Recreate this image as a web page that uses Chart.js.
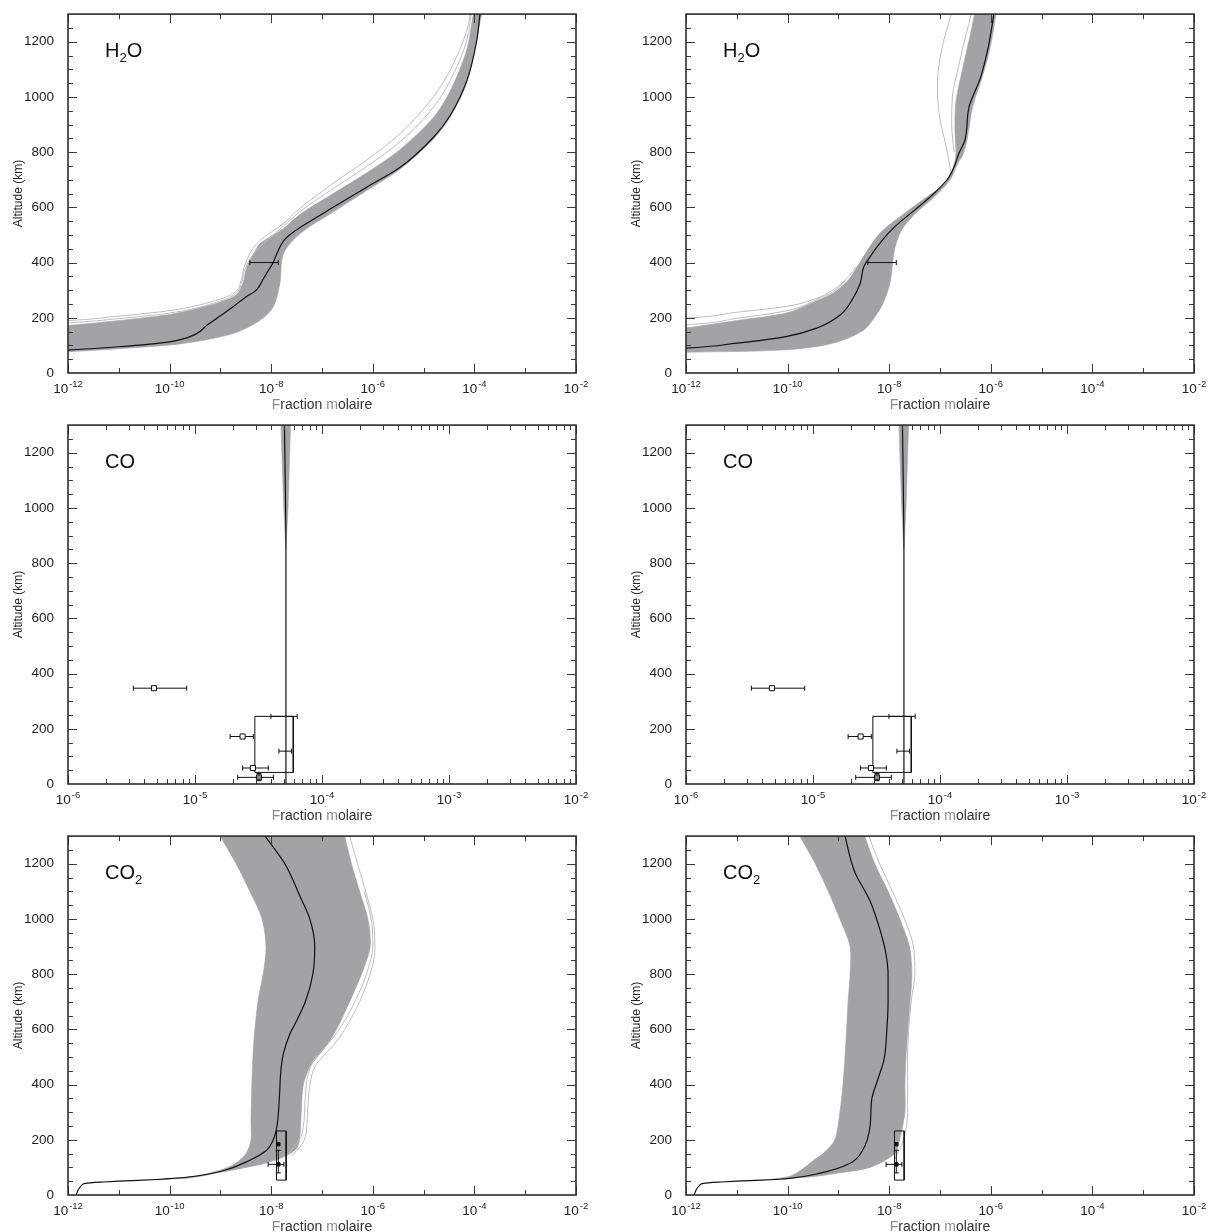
<!DOCTYPE html>
<html><head><meta charset="utf-8">
<script src="https://cdn.jsdelivr.net/npm/chart.js@4.4.1/dist/chart.umd.min.js"></script>
<style>
html,body{margin:0;padding:0;background:#fff;}
#wrap{position:relative;width:1210px;height:1232px;overflow:hidden;}
.cv{position:absolute;}
</style></head><body>
<div id="wrap">
<canvas id="c1" class="cv" style="left:0;top:0" width="605" height="411"></canvas>
<canvas id="c2" class="cv" style="left:605px;top:0" width="605" height="411"></canvas>
<canvas id="c3" class="cv" style="left:0;top:411px" width="605" height="411"></canvas>
<canvas id="c4" class="cv" style="left:605px;top:411px" width="605" height="411"></canvas>
<canvas id="c5" class="cv" style="left:0;top:822px" width="605" height="410"></canvas>
<canvas id="c6" class="cv" style="left:605px;top:822px" width="605" height="410"></canvas>
</div>
<script>
// ---------- tick labels ----------
const yTickValues = [0, 200, 400, 600, 800, 1000, 1200];
const xTicksWide = [1e-12, 1e-10, 1e-8, 1e-6, 1e-4, 1e-2];
const xMinorWide = [1e-11, 1e-9, 1e-7, 1e-5, 1e-3];
const xTicksCO = [1e-6, 1e-5, 1e-4, 1e-3, 1e-2];

// ---------- H2O (left) : [mole fraction, altitude km] ----------
const h2oLeftMedian = [[5e-13,80],[1e-12,83],[1e-11,95],[1e-10,113],[3.2e-10,140],[5.4e-10,173],[1e-9,207],[1.78e-9,240],[3.0e-9,272],[5.1e-9,300],[6.5e-9,330],[8.1e-9,361],[1.07e-8,397],[1.35e-8,440],[1.74e-8,478],[2.5e-8,505],[3.72e-8,527],[1.66e-7,600],[7.59e-7,673],[3.47e-6,745],[1.55e-5,853],[3.31e-5,932],[7.08e-5,1058],[1.11e-4,1203],[1.29e-4,1300],[1.4e-4,1340]];
const h2oLeftBand = [[5e-13,75],[5e-13,170],[1e-12,172],[1e-11,190],[1e-10,212],[3.16e-10,232],[1e-9,257],[2.09e-9,284],[2.82e-9,330],[3.31e-9,384],[4.47e-9,430],[6.03e-9,469],[1.7e-8,522],[3.72e-8,575],[1.66e-7,650],[7.59e-7,725],[3.47e-6,810],[1.55e-5,925],[3.31e-5,1020],[7.08e-5,1170],[9.5e-5,1300],[1.05e-4,1340],[1.48e-4,1340],[1.38e-4,1299],[7.08e-5,1052],[3.31e-5,926],[1.55e-5,847],[3.47e-6,739],[7.59e-7,661],[1.66e-7,583],[3.72e-8,505],[1.74e-8,432],[1.48e-8,324],[1.1e-8,240],[6.03e-9,191],[1.78e-9,143],[1.86e-10,107],[1e-11,88],[1e-12,77],[5e-13,75]];
const h2oLeftOut1 = [[5e-13,188],[1e-12,190],[1e-11,206],[1e-10,226],[1e-9,268],[1.95e-9,292],[2.5e-9,330],[2.95e-9,385],[4e-9,440],[6e-9,480],[1.7e-8,540],[3.72e-8,597],[1.66e-7,687],[7.59e-7,771],[3.47e-6,868],[1.55e-5,1000],[3.31e-5,1096],[7.08e-5,1241],[8.9e-5,1340]];
const h2oLeftOut2 = [[5e-13,178],[1e-12,181],[1e-11,197],[1e-10,217],[1e-9,261],[2.0e-9,287],[2.6e-9,325],[3.1e-9,380],[4.5e-9,432],[1.7e-8,530],[3.72e-8,585],[1.66e-7,668],[7.59e-7,748],[3.47e-6,838],[1.55e-5,962],[3.31e-5,1058],[7.08e-5,1205],[9.2e-5,1340]];
const h2oErrAlt = 400, h2oErrLo = 3.8e-9, h2oErrHi = 1.38e-8;

// ---------- H2O (right) ----------
const h2oRightMedian = [[5e-13,88],[1e-12,90],[1e-11,108],[9.3e-11,132],[3.8e-10,163],[1.1e-9,211],[1.86e-9,265],[2.69e-9,325],[3.16e-9,385],[3.8e-9,409],[6.46e-9,469],[1.29e-8,530],[3.16e-8,590],[7.59e-8,650],[1.51e-7,710],[2.0e-7,758],[2.34e-7,794],[3.09e-7,843],[3.72e-7,963],[6.31e-7,1071],[8.91e-7,1180],[1.15e-6,1300],[1.25e-6,1340]];
const h2oRightBand = [[5e-13,74],[5e-13,160],[1e-12,163],[1e-11,190],[9.3e-11,217],[3.8e-10,262],[7.76e-10,289],[1.58e-9,337],[2.24e-9,380],[2.57e-9,397],[6.46e-9,505],[2.0e-8,578],[4.47e-8,626],[1.12e-7,680],[1.7e-7,730],[2.05e-7,790],[1.97e-7,880],[2.05e-7,980],[2.82e-7,1107],[3.98e-7,1228],[4.79e-7,1300],[5.25e-7,1340],[1.32e-6,1340],[1.26e-6,1300],[9.77e-7,1180],[6.76e-7,1071],[4.37e-7,963],[3.39e-7,843],[2.82e-7,790],[2.24e-7,760],[1.58e-7,700],[7.94e-8,640],[3.16e-8,575],[1.78e-8,520],[1.32e-8,460],[1.17e-8,400],[1.05e-8,330],[8.3e-9,270],[6.46e-9,229],[3.16e-9,156],[7.76e-10,108],[9.3e-11,84],[1e-12,75],[5e-13,74]];
const h2oRightOutA = [[1.66e-7,722],[1.29e-7,830],[9.8e-8,927],[8.9e-8,1047],[1.07e-7,1168],[1.66e-7,1300],[1.9e-7,1340]];
const h2oRightOutB = [[1.9e-7,800],[1.7e-7,900],[1.75e-7,1000],[2.3e-7,1107],[3.3e-7,1230],[4.1e-7,1300],[4.4e-7,1340]];
const h2oRightOutC = [[5e-13,197],[1e-12,199],[1e-11,220],[9.3e-11,241],[3.8e-10,271],[7.76e-10,301],[1.58e-9,349],[2.2e-9,385]];
const h2oRightOutD = [[5e-13,173],[1e-12,175],[1e-11,198],[9.3e-11,225],[3.8e-10,266],[7.76e-10,294],[1.4e-9,335]];

// ---------- CO ----------
const coMedian = [[5.2e-5,0],[5.2e-5,850],[5.15e-5,1050],[5.05e-5,1340]];
const coBand = [[5.2e-5,850],[5.4e-5,1000],[5.65e-5,1300],[5.7e-5,1340],[4.7e-5,1340],[4.75e-5,1300],[5.0e-5,1000],[5.2e-5,850]];
const coMarkX = [4.75e-6, 2.37e-5, 2.86e-5, 3.19e-5];
const coMarkAlt = [347, 172, 58, 24];
const coErrLo = [3.27e-6, 1.89e-5, 2.37e-5, 2.17e-5];
const coErrHi = [8.6e-6, 2.88e-5, 3.78e-5, 4.14e-5];
const coBarAlt = [245, 119];
const coBarLo = [3.96e-5, 4.58e-5];
const coBarHi = [6.38e-5, 5.75e-5];
const coBoxX = [2.96e-5, 5.94e-5];
const coBoxAlt = [42, 245];

// ---------- CO2 (left) ----------
const co2LeftMedian = [[1.45e-12,0],[1.6e-12,20],[1.85e-12,35],[2.2e-12,42],[5e-12,47],[1e-11,50],[7e-11,57],[1e-10,59],[3.2e-10,68],[1e-9,85],[3.8e-9,126],[8.1e-9,162],[1.1e-8,200],[1.29e-8,247],[1.45e-8,355],[1.55e-8,451],[1.74e-8,512],[2.34e-8,584],[2.95e-8,620],[4.7e-8,700],[6.6e-8,800],[7.2e-8,900],[5.75e-8,1000],[3.72e-8,1080],[1.86e-8,1200],[7.6e-9,1300],[5.5e-9,1340]];
const co2LeftBand = [[5e-11,56],[2.5e-10,66],[1e-9,90],[2e-9,115],[3.2e-9,150],[4e-9,200],[4e-9,271],[4.4e-9,512],[5.4e-9,692],[7.1e-9,812],[7.9e-9,900],[6.6e-9,1000],[3.8e-9,1100],[2.04e-9,1200],[1e-9,1300],[8.5e-10,1340],[2.5e-7,1340],[2.8e-7,1300],[3.8e-7,1200],[5.5e-7,1100],[8e-7,1000],[9e-7,920],[8.5e-7,880],[6e-7,800],[3.5e-7,700],[2.2e-7,620],[1.45e-7,560],[1e-7,520],[6e-8,470],[4.3e-8,400],[3.9e-8,300],[3.7e-8,220],[3.2e-8,170],[1.86e-8,140],[7.6e-9,115],[3.2e-9,100],[1e-9,82],[2.5e-10,62],[5e-11,56]];
const co2LeftOut1 = [[2.5e-8,140],[4.5e-8,200],[5.2e-8,300],[5.8e-8,400],[7.5e-8,470],[1.3e-7,520],[2.2e-7,570],[3.5e-7,630],[5.5e-7,700],[8.5e-7,790],[1.1e-6,890],[1.05e-6,980],[7.5e-7,1090],[5e-7,1200],[3.5e-7,1300],[3.1e-7,1340]];
const co2LeftOut2 = [[2.2e-8,150],[4e-8,220],[4.6e-8,330],[5.2e-8,430],[7e-8,490],[1.2e-7,540],[2e-7,590],[3.2e-7,650],[5e-7,720],[7.8e-7,810],[1e-6,900],[9.5e-7,990],[6.8e-7,1100]];

// ---------- CO2 (right) ----------
const co2RightMedian = [[1.45e-12,0],[1.6e-12,20],[1.85e-12,35],[2.2e-12,42],[5e-12,47],[1e-11,50],[7e-11,57],[1e-10,59],[4.4e-10,79],[1.7e-9,115],[3.0e-9,162],[4.2e-9,250],[4.5e-9,343],[6e-9,420],[7.9e-9,490],[9e-9,600],[9.5e-9,700],[9.5e-9,800],[8.5e-9,880],[6.6e-9,960],[4.2e-9,1065],[2.1e-9,1170],[1.35e-9,1300],[1.2e-9,1340]];
const co2RightBand = [[5e-11,57],[1.2e-10,70],[2e-10,95],[3.2e-10,125],[5e-10,150],[8.5e-10,200],[1.07e-9,300],[1.23e-9,400],[1.35e-9,500],[1.45e-9,600],[1.55e-9,700],[1.7e-9,800],[1.7e-9,900],[1.07e-9,1000],[6.3e-10,1100],[3.5e-10,1200],[1.74e-10,1300],[1.4e-10,1340],[2.8e-9,1340],[3.3e-9,1300],[5.2e-9,1200],[9.5e-9,1100],[1.62e-8,1000],[2.5e-8,900],[2.8e-8,800],[2.57e-8,700],[2.34e-8,600],[2.14e-8,500],[2.04e-8,400],[2.04e-8,300],[1.6e-8,200],[1.29e-8,150],[4.2e-9,100],[1e-9,80],[3e-10,66],[5e-11,57]];
const co2RightOut1 = [[1.29e-8,130],[1.9e-8,200],[2.3e-8,300],[2.3e-8,500],[2.7e-8,700],[3.2e-8,800],[3e-8,900],[2e-8,1000],[1.15e-8,1100],[6.5e-9,1200],[4e-9,1300],[3.5e-9,1340]];

// ---------- CO2 measurements ----------
const co2BoxX = [1.27e-8, 1.97e-8];
const co2BoxAlt = [54, 232];
const co2MarkX = [1.38e-8, 1.38e-8];
const co2MarkAlt = [184, 111];
const co2HErrAlt = 111, co2HErrLo = 8.7e-9, co2HErrHi = 1.78e-8;
const co2VErrX = 1.38e-8, co2VErrLo = 80, co2VErrHi = 162;

// ================= rendering =================
const FONT = '"Liberation Sans", Arial, Helvetica, sans-serif';
const BAND = '#a3a3a7';
const LIGHT = '#bdbdc0';
const INK = '#111';

const pts = a => a.map(p => ({x: p[0], y: p[1]}));
const bandDs = (a, t) => ({data: pts(a), borderColor: BAND, backgroundColor: BAND, borderWidth: 0.6, fill: 'shape', pointRadius: 0, tension: t === undefined ? 0.3 : t, capBezierPoints: false, order: 5});
const lightDs = a => ({data: pts(a), borderColor: LIGHT, borderWidth: 1, fill: false, pointRadius: 0, cubicInterpolationMode: 'monotone', order: 4});
const medDs = a => ({data: pts(a), borderColor: INK, borderWidth: 1.2, fill: false, pointRadius: 0, cubicInterpolationMode: 'monotone', order: 2});
const hBar = (lo, hi, alt) => ({data: [{x: lo, y: alt}, {x: hi, y: alt}], borderColor: INK, borderWidth: 1, fill: false, tension: 0, pointStyle: 'line', pointRotation: 90, pointRadius: 2.5, pointBorderWidth: 1, pointBorderColor: INK, order: 1});
const vBar = (x, lo, hi) => ({data: [{x: x, y: lo}, {x: x, y: hi}], borderColor: INK, borderWidth: 1, fill: false, tension: 0, pointStyle: 'line', pointRotation: 0, pointRadius: 2.5, pointBorderWidth: 1, pointBorderColor: INK, order: 1});
const boxDs = (xs, as) => ({data: pts([[xs[0], as[0]], [xs[0], as[1]], [xs[1], as[1]], [xs[1], as[0]], [xs[0], as[0]]]), borderColor: INK, borderWidth: 1, fill: false, tension: 0, pointRadius: 0, order: 1});
const markDs = (xs, as, fills, r) => ({data: xs.map((x, i) => ({x: x, y: as[i]})), showLine: false, pointStyle: 'rect', pointRadius: r, pointBackgroundColor: fills, pointBorderColor: INK, pointBorderWidth: 1, order: 0});

function h2oLeftSets() {
  return [bandDs(h2oLeftBand), lightDs(h2oLeftOut1), lightDs(h2oLeftOut2), medDs(h2oLeftMedian), hBar(h2oErrLo, h2oErrHi, h2oErrAlt)];
}
function h2oRightSets() {
  return [bandDs(h2oRightBand), lightDs(h2oRightOutA), lightDs(h2oRightOutB), lightDs(h2oRightOutC), lightDs(h2oRightOutD), medDs(h2oRightMedian), hBar(h2oErrLo, h2oErrHi, h2oErrAlt)];
}
function coSets() {
  const s = [bandDs(coBand, 0), medDs(coMedian), boxDs(coBoxX, coBoxAlt)];
  coMarkX.forEach((x, i) => s.push(hBar(coErrLo[i], coErrHi[i], coMarkAlt[i])));
  coBarAlt.forEach((a, i) => s.push(hBar(coBarLo[i], coBarHi[i], a)));
  s.push(vBar(coMarkX[3], 12, 38));
  s.push(markDs(coMarkX, coMarkAlt, ['#fff', '#fff', '#fff', '#888'], 3.6));
  return s;
}
function co2Sets(band, med, outs) {
  const s = [bandDs(band)];
  outs.forEach(o => s.push(lightDs(o)));
  s.push(medDs(med));
  s.push(boxDs(co2BoxX, co2BoxAlt));
  s.push(hBar(co2HErrLo, co2HErrHi, co2HErrAlt));
  s.push(vBar(co2VErrX, co2VErrLo, co2VErrHi));
  s.push(markDs(co2MarkX, co2MarkAlt, [INK, INK], 2.4));
  return s;
}

const framePlugin = {
  id: 'frame',
  afterDatasetsDraw(chart) {
    const cfg = chart.options.plugins.frame;
    const {ctx, chartArea: a, scales: {x, y}} = chart;
    ctx.save();
    ctx.strokeStyle = '#3a3a3a';
    ctx.lineWidth = 1;
    const seg = (x1, y1, x2, y2) => { ctx.beginPath(); ctx.moveTo(x1, y1); ctx.lineTo(x2, y2); ctx.stroke(); };
    for (let v = 50; v < 1300; v += 50) {
      const py = Math.round(y.getPixelForValue(v)) + 0.5;
      const len = v % 200 === 0 ? 9 : 5;
      seg(a.left, py, a.left + len, py);
      seg(a.right, py, a.right - len, py);
    }
    cfg.xMajor.forEach(v => {
      const px = Math.round(x.getPixelForValue(v)) + 0.5;
      seg(px, a.bottom, px, a.bottom - 9);
      seg(px, a.top, px, a.top + 9);
    });
    cfg.xMinor.forEach(v => {
      const px = Math.round(x.getPixelForValue(v)) + 0.5;
      seg(px, a.bottom, px, a.bottom - 5);
      seg(px, a.top, px, a.top + 5);
    });
    ctx.lineWidth = 1.6;
    ctx.strokeStyle = '#2e2e2e';
    ctx.strokeRect(a.left, a.top, a.right - a.left, a.bottom - a.top);

    // x tick labels: 10 with raised exponent
    ctx.fillStyle = '#222';
    ctx.textBaseline = 'alphabetic';
    ctx.textAlign = 'left';
    cfg.xMajor.forEach(v => {
      const px = x.getPixelForValue(v);
      const e = String(Math.round(Math.log10(v)));
      ctx.font = '13.5px ' + FONT;
      const w1 = ctx.measureText('10').width;
      ctx.font = '9.5px ' + FONT;
      const w2 = ctx.measureText(e).width;
      const x0 = px - (w1 + w2 + 1) / 2;
      ctx.font = '13.5px ' + FONT;
      ctx.fillText('10', x0, a.bottom + 20);
      ctx.font = '9.5px ' + FONT;
      ctx.fillText(e, x0 + w1 + 1, a.bottom + 14);
    });

    // x axis title, IDL-style with grey capitals
    const parts = [['F', '#8a8a8a'], ['raction ', '#333'], ['m', '#8a8a8a'], ['olaire', '#333']];
    ctx.font = '14px ' + FONT;
    let tw = 0;
    parts.forEach(p => { tw += ctx.measureText(p[0]).width; });
    let tx = (a.left + a.right) / 2 - tw / 2;
    parts.forEach(p => { ctx.fillStyle = p[1]; ctx.fillText(p[0], tx, a.bottom + 36); tx += ctx.measureText(p[0]).width; });

    // species label
    ctx.fillStyle = '#111';
    let sx = a.left + 37;
    const base = a.top + 43;
    cfg.species.forEach(p => {
      ctx.font = (p.sub ? '13px ' : '20px ') + FONT;
      ctx.fillText(p.t, sx, base + (p.sub ? 5 : 0));
      sx += ctx.measureText(p.t).width;
    });
    ctx.restore();
  }
};

function minorCO() {
  const out = [];
  [1e-6, 1e-5, 1e-4, 1e-3].forEach(d => { for (let m = 2; m <= 9; m++) out.push(m * d); });
  return out;
}

const H2O = [{t: 'H'}, {t: '2', sub: true}, {t: 'O'}];
const CO = [{t: 'CO'}];
const CO2 = [{t: 'CO'}, {t: '2', sub: true}];

const panels = [
  {id: 'c1', col: 0, xMin: 1e-12, xMax: 1e-2, xLabels: xTicksWide, xMinor: xMinorWide, species: H2O, sets: h2oLeftSets()},
  {id: 'c2', col: 1, xMin: 1e-12, xMax: 1e-2, xLabels: xTicksWide, xMinor: xMinorWide, species: H2O, sets: h2oRightSets()},
  {id: 'c3', col: 0, xMin: 1e-6, xMax: 1e-2, xLabels: xTicksCO, xMinor: minorCO(), species: CO, sets: coSets()},
  {id: 'c4', col: 1, xMin: 1e-6, xMax: 1e-2, xLabels: xTicksCO, xMinor: minorCO(), species: CO, sets: coSets()},
  {id: 'c5', col: 0, xMin: 1e-12, xMax: 1e-2, xLabels: xTicksWide, xMinor: xMinorWide, species: CO2, sets: co2Sets(co2LeftBand, co2LeftMedian, [co2LeftOut1, co2LeftOut2])},
  {id: 'c6', col: 1, xMin: 1e-12, xMax: 1e-2, xLabels: xTicksWide, xMinor: xMinorWide, species: CO2, sets: co2Sets(co2RightBand, co2RightMedian, [co2RightOut1])}
];

panels.forEach(p => {
  const cv = document.getElementById(p.id);
  const yW = p.col === 0 ? 68 : 81;
  const padR = p.col === 0 ? 29 : 16;
  const yTitlePad = p.col === 0 ? 11 : 24;
  const xH = cv.height - 373;
  new Chart(cv, {
    type: 'line',
    data: {datasets: p.sets},
    options: {
      responsive: false,
      animation: false,
      indexAxis: 'y',
      events: [],
      layout: {padding: {left: 0, right: padR, top: 13, bottom: 0}, autoPadding: false},
      plugins: {
        legend: {display: false},
        tooltip: {enabled: false},
        frame: {xMajor: p.xLabels, xMinor: p.xMinor, species: p.species}
      },
      scales: {
        x: {
          type: 'logarithmic', position: 'bottom', min: p.xMin, max: p.xMax,
          afterBuildTicks: s => { s.ticks = p.xLabels.map(v => ({value: v})); },
          afterFit: s => { s.height = xH; },
          grid: {display: false}, border: {display: false},
          ticks: {display: false},
          title: {display: false, text: 'Fraction molaire'}
        },
        y: {
          type: 'linear', position: 'left', min: 0, max: 1300,
          afterBuildTicks: s => { s.ticks = yTickValues.map(v => ({value: v})); },
          afterFit: s => { s.width = yW; },
          grid: {display: false}, border: {display: false},
          ticks: {autoSkip: false, padding: 6, color: '#222', font: {family: FONT, size: 13.5}, callback: v => String(v)},
          title: {display: true, text: 'Altitude (km)', color: '#222', font: {family: FONT, size: 12}, padding: {top: yTitlePad, bottom: 0}}
        }
      }
    },
    plugins: [framePlugin]
  });
});
</script>
</body></html>
